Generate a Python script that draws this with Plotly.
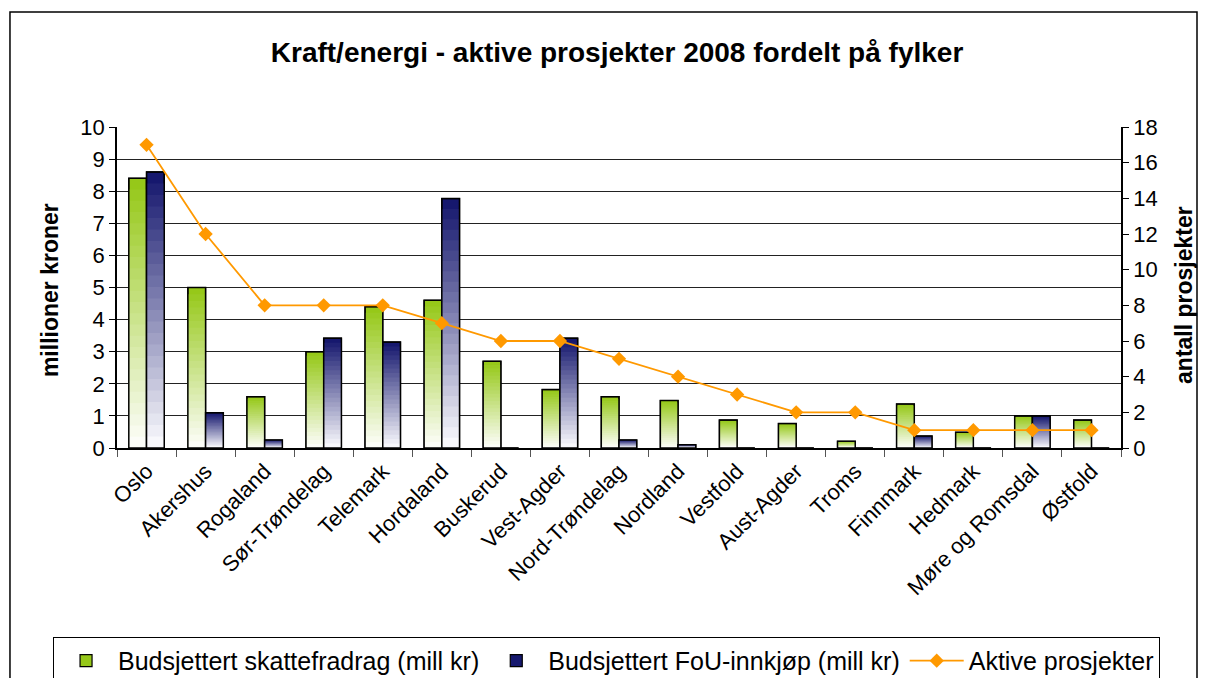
import plotly.graph_objects as go

categories = ["Oslo", "Akershus", "Rogaland", "Sør-Trøndelag", "Telemark", "Hordaland",
              "Buskerud", "Vest-Agder", "Nord-Trøndelag", "Nordland", "Vestfold",
              "Aust-Agder", "Troms", "Finnmark", "Hedmark", "Møre og Romsdal", "Østfold"]
skattefradrag = [8.4, 5.0, 1.6, 3.0, 4.4, 4.6, 2.7, 1.82, 1.6, 1.48, 0.87, 0.76, 0.21, 1.37, 0.49, 1.0, 0.87]
fou_innkjop = [8.6, 1.1, 0.25, 3.42, 3.3, 7.77, 0, 3.42, 0.25, 0.1, 0, 0, 0, 0.37, 0, 1.0, 0]
aktive = [17, 12, 8, 8, 8, 7, 6, 6, 5, 4, 3, 2, 2, 1, 1, 1, 1]

name_green = "Budsjettert skattefradrag (mill kr)"
name_blue = "Budsjettert FoU-innkjøp (mill kr)"
name_line = "Aktive prosjekter"

FONT = "Arial, 'Liberation Sans', sans-serif"
N = 24


def lerp(c1, c2, t):
    return "rgb(%d,%d,%d)" % tuple(round(a + (b - a) * t) for a, b in zip(c1, c2))


fig = go.Figure()


def gradient_bars(values, top, bottom, offset, name, lg):
    for k in range(N):
        frac = (N - k) / N
        fig.add_trace(go.Bar(
            x=categories, y=[v * frac for v in values],
            marker=dict(color=lerp(top, bottom, k / (N - 1)),
                        line=dict(color="black", width=1.2 if k == 0 else 0)),
            width=0.3, offset=offset, name=name, legendgroup=lg,
            showlegend=(k == 0), hoverinfo="skip" if k else None,
        ))
    fig.add_trace(go.Bar(
        x=categories, y=values,
        marker=dict(color="rgba(0,0,0,0)", line=dict(color="black", width=1.5)),
        width=0.3, offset=offset, showlegend=False, legendgroup=lg, hoverinfo="skip",
    ))


gradient_bars(skattefradrag, (150, 200, 25), (252, 253, 248), -0.3, name_green, "g")
gradient_bars(fou_innkjop, (22, 24, 110), (248, 248, 252), 0.0, name_blue, "b")

fig.add_trace(go.Scatter(
    x=categories, y=aktive, yaxis="y2", name=name_line, mode="lines+markers",
    line=dict(color="#FF9900", width=1.8),
    marker=dict(symbol="diamond", size=11, color="#FF9900"),
))

fig.update_layout(
    template="none",
    width=1197, height=670,
    margin=dict(l=109, r=84, t=119, b=230, pad=0, autoexpand=False),
    paper_bgcolor="white", plot_bgcolor="white",
    barmode="overlay",
    font=dict(family=FONT, color="black", size=20),
    title=dict(text="<b>Kraft/energi - aktive prosjekter 2008 fordelt på fylker</b>",
               x=0.5088, xanchor="center", y=0.9343, yanchor="middle",
               font=dict(size=28, family=FONT)),
    xaxis=dict(type="category", tickangle=-45, ticks="outside", tickson="boundaries",
               ticklen=7, tickcolor="#555", showline=True, linecolor="black", linewidth=1.5,
               showgrid=False, tickfont=dict(size=22), range=[-0.5, 16.5], automargin=False),
    yaxis=dict(range=[0, 10], dtick=1, ticks="outside", ticklen=6, tickcolor="black",
               showline=True, linecolor="black", linewidth=1.5, showgrid=True,
               gridcolor="#222", gridwidth=1, zeroline=False, tickfont=dict(size=22),
               automargin=False),
    yaxis2=dict(range=[0, 18], dtick=2, overlaying="y", side="right", ticks="outside",
                ticklen=6, tickcolor="black", showline=True, linecolor="black", linewidth=1.5,
                showgrid=False, zeroline=False, tickfont=dict(size=22), automargin=False),
    legend=dict(orientation="h", x=-0.0637, xanchor="left", y=-0.738, yanchor="bottom",
                bordercolor="black", borderwidth=1, font=dict(size=25),
                traceorder="normal", itemwidth=54, bgcolor="white"),
    showlegend=True,
    annotations=[
        dict(text="<b>millioner kroner</b>", xref="paper", yref="paper",
             x=-0.0667, y=0.492, xanchor="center", yanchor="middle", textangle=-90,
             showarrow=False, font=dict(size=23, family=FONT)),
        dict(text="<b>antall prosjekter</b>", xref="paper", yref="paper",
             x=1.0627, y=0.4766, xanchor="center", yanchor="middle", textangle=-90,
             showarrow=False, font=dict(size=23, family=FONT)),
    ],
    shapes=[dict(type="rect", xref="paper", yref="paper", x0=-0.1066, x1=1.0757,
                 y0=-0.80, y1=1.3583, line=dict(color="black", width=1.5),
                 fillcolor="rgba(0,0,0,0)", layer="below")],
)

fig.write_html("out.html")
